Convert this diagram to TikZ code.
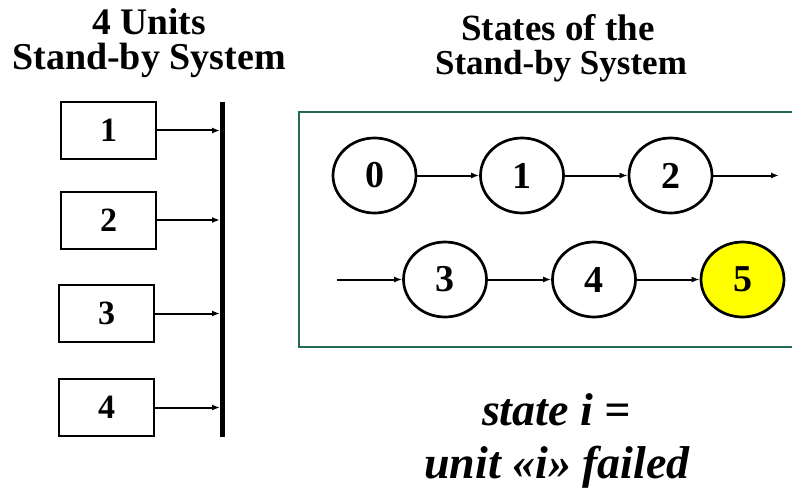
\documentclass[tikz,border=0pt]{standalone}
\usepackage{fontspec}
\setmainfont{Liberation Serif}
\usetikzlibrary{arrows.meta,shapes.geometric}
\definecolor{framegreen}{HTML}{236B4E}
\definecolor{stateyellow}{HTML}{FFFF00}
\tikzset{
  title/.style={font=\fontsize{35}{38}\selectfont\bfseries, anchor=base, inner sep=0pt},
  unitbox/.style={draw, line width=2pt, minimum width=95pt, minimum height=57pt, inner sep=0pt, font=\fontsize{34}{36}\selectfont\bfseries},
  statenode/.style={draw, ellipse, line width=2.7pt, minimum width=83pt, minimum height=75pt, inner sep=0pt, font=\fontsize{38}{40}\selectfont\bfseries},
  conn/.style={line width=2pt, -{Latex[length=8pt,width=6pt]}},
  note/.style={font=\fontsize{46}{50}\selectfont\bfseries\itshape, anchor=base, inner sep=0pt},
}
\begin{document}
\begin{tikzpicture}[x=1pt,y=-1pt]
\useasboundingbox (0,0) rectangle (792,492);
% titles
\node[title, font=\fontsize{37.5}{40}\selectfont\bfseries] (t1) at (149,35) {4 Units};
\node[title, font=\fontsize{38}{40}\selectfont\bfseries] (t2) at (149,70) {Stand-by System};
\node[title, font=\fontsize{37}{40}\selectfont\bfseries] (t3) at (558,41) {States of the};
\node[title] (t4) at (561,75) {Stand-by System};
% units
\node[unitbox] (u1) at (108.5,130.5) {1};
\node[unitbox] (u2) at (108.5,220) {2};
\node[unitbox] (u3) at (106.5,313.5) {3};
\node[unitbox] (u4) at (106.5,407.5) {4};
\coordinate (bartop) at (222.5,102);
\coordinate (barbot) at (222.5,437);
\draw[line width=5pt] (bartop) -- (barbot);
\coordinate (b1) at (220,130.5);
\coordinate (b2) at (220,220);
\coordinate (b3) at (220,313.5);
\coordinate (b4) at (220,407.5);
\draw[conn] (u1.east) -- (b1);
\draw[conn] (u2.east) -- (b2);
\draw[conn] (u3.east) -- (b3);
\draw[conn] (u4.east) -- (b4);
% frame
\draw[framegreen, line width=2pt] (820,112) -- (299,112) -- (299,347) -- (820,347);
% states
\node[statenode] (s0) at (374.5,175.5) {0};
\node[statenode] (s1) at (522,175.5) {1};
\node[statenode] (s2) at (670.5,175.5) {2};
\node[statenode] (s3) at (445,279.5) {3};
\node[statenode] (s4) at (594,279.5) {4};
\node[statenode, fill=stateyellow] (s5) at (742.5,279.5) {5};
\coordinate (out2) at (779,175.5);
\coordinate (in3) at (337,279.5);
\draw[conn] (s0) -- (s1);
\draw[conn] (s1) -- (s2);
\draw[conn] (s2) -- (out2);
\draw[conn] (in3) -- (s3);
\draw[conn] (s3) -- (s4);
\draw[conn] (s4) -- (s5);
% note
\node[note] (n1) at (556.5,425) {state i =};
\node[note] (n2) at (557,478) {unit «i» failed};
\end{tikzpicture}
\end{document}
